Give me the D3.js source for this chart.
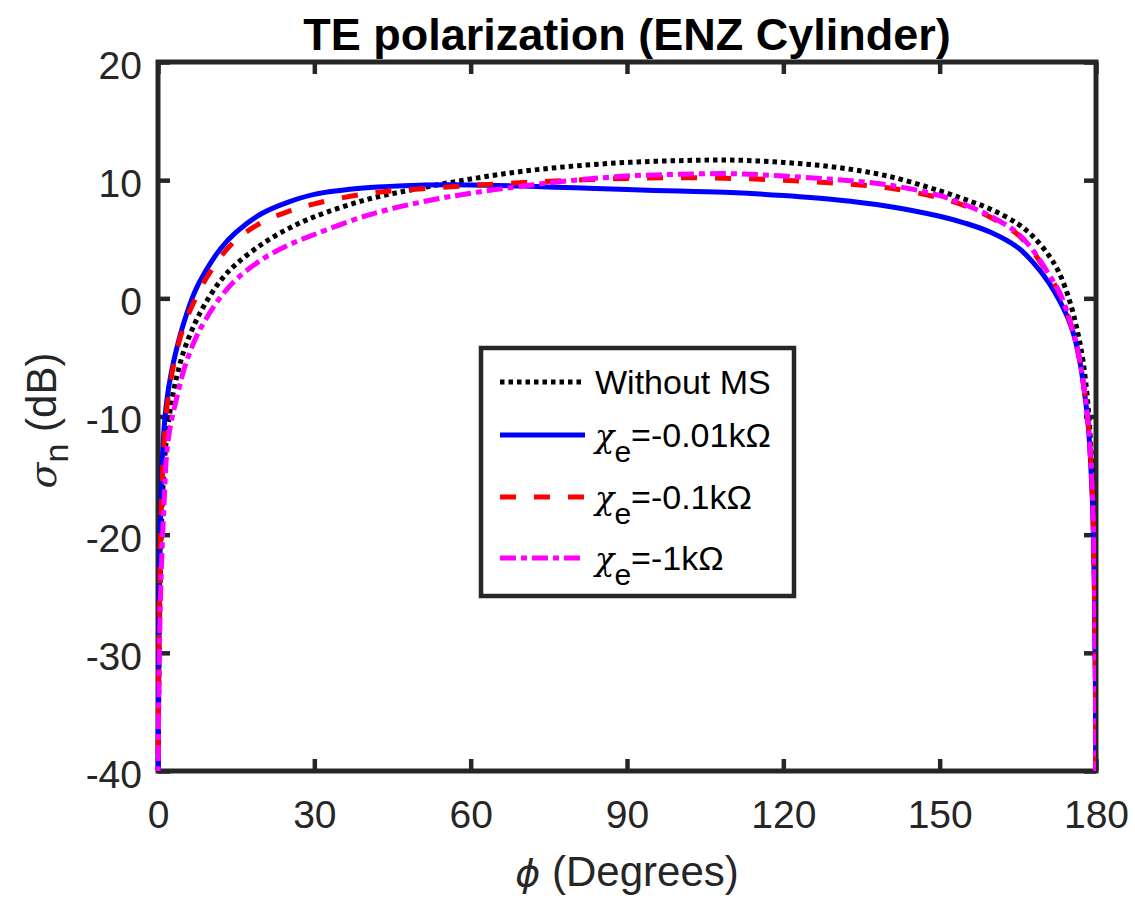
<!DOCTYPE html>
<html><head><meta charset="utf-8">
<script src="https://cdn.jsdelivr.net/npm/d3@7"></script>
<style>
html,body{margin:0;padding:0;background:#fff;}
svg{display:block;font-family:"Liberation Sans",Arial,sans-serif;}
</style></head>
<body>
<svg id="c" width="1135" height="901"></svg>
<script>
// ---- data ----
const phi = [0, 0.05, 0.15, 0.3, 0.5, 0.8, 1.2, 1.7, 2.5, 3.5, 5, 7, 9, 12, 15, 20, 25, 30, 40, 50, 60, 70, 80, 90, 100, 110, 120, 130, 140, 150, 155, 160, 165, 168, 171, 173, 175, 176.5, 177.5, 178.5, 179.2, 179.5, 179.7, 179.85, 179.95, 180];
const withoutMS = [-50, -40, -33, -27, -22, -17.5, -14, -11.6, -9.0, -6.8, -4.4, -2.2, -0.5, 1.5, 2.9, 4.6, 5.9, 6.9, 8.35, 9.3, 10.1, 10.75, 11.2, 11.5, 11.65, 11.7, 11.5, 11.1, 10.35, 9.1, 8.35, 7.5, 6.3, 5.2, 3.6, 2.1, -0.3, -2.9, -5.3, -9.2, -14.5, -18.5, -23.5, -29.5, -37, -50];
const chi001 = [-50, -38, -30, -24, -19, -14, -10.8, -8.6, -6.4, -4.4, -2.0, 0.5, 2.2, 4.2, 5.6, 7.2, 8.15, 8.8, 9.35, 9.58, 9.6, 9.5, 9.35, 9.2, 9.08, 8.95, 8.7, 8.35, 7.8, 6.95, 6.35, 5.55, 4.3, 3.0, 1.3, -0.2, -2.1, -4.4, -7.0, -10.7, -16, -20, -25, -31, -38, -50];
const chi01 = [-50, -39, -31, -25, -20, -15.5, -12, -9.3, -6.8, -4.6, -2.3, -0.2, 1.5, 3.5, 4.95, 6.45, 7.35, 8.0, 8.85, 9.25, 9.55, 9.8, 10.0, 10.15, 10.2, 10.15, 10.0, 9.75, 9.35, 8.5, 7.8, 6.8, 5.4, 3.9, 1.9, 0.4, -2.0, -4.5, -7.0, -10.6, -15.5, -19.5, -24.5, -30.5, -38, -50];
const chi1 = [-50, -39, -34, -29, -25, -21, -17, -13, -10.5, -8.6, -6.0, -3.6, -1.9, 0.1, 1.6, 3.3, 4.5, 5.4, 7.0, 8.1, 8.9, 9.5, 10.0, 10.35, 10.5, 10.55, 10.35, 10.05, 9.6, 8.7, 7.9, 6.9, 5.5, 4.0, 2.0, 0.5, -1.9, -4.4, -6.9, -10.5, -15.4, -19.4, -24.4, -30.4, -38, -50];
const xTicks = [0, 30, 60, 90, 120, 150, 180];
const yTicks = [-40, -30, -20, -10, 0, 10, 20];
const seriesNames = ["Without MS", "-0.01kΩ", "-0.1kΩ", "-1kΩ"];

// ---- layout ----
const L = 158, T = 62, R = 1096, B = 771;
const ax = "#262626";
const svg = d3.select("#c");
const x = d3.scaleLinear().domain([0, 180]).range([L, R]);
const y = d3.scaleLinear().domain([-40, 20]).range([B, T]);
const fmt = d => String(d);

svg.append("rect").attr("width", 1135).attr("height", 901).attr("fill", "#fff");

// axes
function styleAxis(g, showLabels) {
  g.select(".domain").remove();
  g.selectAll(".tick line").attr("stroke", ax).attr("stroke-width", 4.5);
  g.selectAll(".tick text").attr("fill", ax).style("font-size", "39px")
    .style("font-family", "'Liberation Sans', Arial, sans-serif");
  if (!showLabels) g.selectAll(".tick text").remove();
}
svg.append("g").attr("transform", `translate(0,${B})`)
  .call(d3.axisBottom(x).tickValues(xTicks).tickFormat(fmt).tickSizeInner(-12).tickSizeOuter(0).tickPadding(29))
  .call(g => styleAxis(g, true));
svg.append("g").attr("transform", `translate(0,${T})`)
  .call(d3.axisTop(x).tickValues(xTicks).tickSizeInner(-12).tickSizeOuter(0))
  .call(g => styleAxis(g, false));
const yl = svg.append("g").attr("transform", `translate(${L},0)`)
  .call(d3.axisLeft(y).tickValues(yTicks).tickFormat(fmt).tickSizeInner(-12).tickSizeOuter(0).tickPadding(16))
  .call(g => styleAxis(g, true));
yl.selectAll(".tick text").attr("dy", "0.42em");
svg.append("g").attr("transform", `translate(${R},0)`)
  .call(d3.axisRight(y).tickValues(yTicks).tickSizeInner(-12).tickSizeOuter(0))
  .call(g => styleAxis(g, false));
svg.append("rect").attr("x", L).attr("y", T).attr("width", R - L).attr("height", B - T)
  .attr("fill", "none").attr("stroke", ax).attr("stroke-width", 5);

// clip
svg.append("clipPath").attr("id", "clip").append("rect")
  .attr("x", L - 3).attr("y", T).attr("width", R - L + 3).attr("height", B - T);

const styles = [
  {data: withoutMS, color: "#000000", dash: "4.5,4", w: 5},
  {data: chi001, color: "#0000ff", dash: null, w: 5},
  {data: chi01, color: "#ff0000", dash: "16,18", w: 5},
  {data: chi1, color: "#ff00ff", dash: "16,5,6,5", w: 5}
];
const line = d3.line().x(d => x(d[0])).y(d => y(d[1])).curve(d3.curveCatmullRom.alpha(0.5));
const gl = svg.append("g").attr("clip-path", "url(#clip)");
styles.forEach(s => {
  gl.append("path").datum(phi.map((p, i) => [p, s.data[i]]))
    .attr("d", line).attr("fill", "none").attr("stroke", s.color)
    .attr("stroke-width", s.w).attr("stroke-dasharray", s.dash);
});

// title
svg.append("text").attr("x", (L + R) / 2).attr("y", 50).attr("text-anchor", "middle")
  .style("font-size", "45px").style("font-weight", "bold").attr("fill", "#000")
  .text("TE polarization (ENZ Cylinder)");

// x label
const xlab = svg.append("text").attr("x", (L + R) / 2).attr("y", 886).attr("text-anchor", "middle")
  .style("font-size", "42px").attr("fill", ax);
xlab.append("tspan").style("font-family", "'DejaVu Sans'").style("font-style", "italic").style("font-size", "38px").text("ϕ");
xlab.append("tspan").text(" (Degrees)");

// y label
const ylab = svg.append("text").attr("transform", `translate(56,${(T + B) / 2 + 4}) rotate(-90)`)
  .attr("text-anchor", "middle").style("font-size", "42px").attr("fill", ax);
ylab.append("tspan").style("font-family", "'DejaVu Serif'").style("font-style", "italic").style("font-size", "38px").text("σ");
ylab.append("tspan").attr("dy", 12).style("font-size", "34px").text("n");
ylab.append("tspan").attr("dy", -12).text(" (dB)");

// legend
const lg = svg.append("g");
lg.append("rect").attr("x", 481).attr("y", 348).attr("width", 313).attr("height", 248)
  .attr("fill", "#fff").attr("stroke", ax).attr("stroke-width", 4.5);
const rowsY = [382, 435, 497, 558];
styles.forEach((s, i) => {
  lg.append("line").attr("x1", 500).attr("x2", 585).attr("y1", rowsY[i]).attr("y2", rowsY[i])
    .attr("stroke", s.color).attr("stroke-width", s.w).attr("stroke-dasharray", s.dash);
  const t = lg.append("text").attr("x", 595).attr("y", rowsY[i] + 12).style("font-size", "34px").attr("fill", "#000");
  if (i === 0) {
    t.text(seriesNames[0]);
  } else {
    t.append("tspan").style("font-family", "'DejaVu Serif'").style("font-style", "italic").style("font-size", "32px").text("χ");
    t.append("tspan").attr("dy", 15).style("font-size", "30px").text("e");
    t.append("tspan").attr("dy", -15).text("=" + seriesNames[i]);
  }
});
</script>
</body></html>
